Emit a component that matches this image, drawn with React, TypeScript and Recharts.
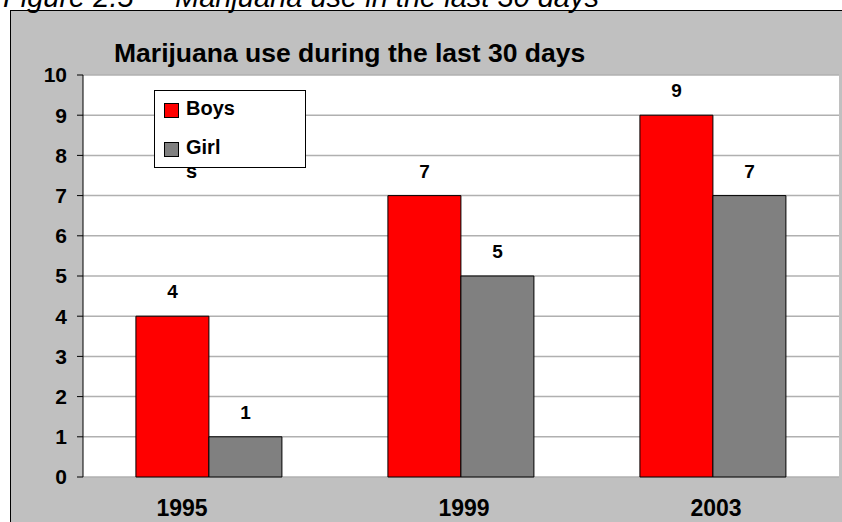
import React from "react";
import {
  BarChart,
  Bar,
  XAxis,
  YAxis,
  CartesianGrid,
  Legend,
  LabelList,
} from "recharts";

const years = ["1995", "1999", "2003"];
const boys = [4, 7, 9];
const girls = [1, 5, 7];
const seriesNames = ["Boys", "Girls"];
const seriesColors = ["#ff0000", "#808080"];
const yTicks = [0, 1, 2, 3, 4, 5, 6, 7, 8, 9, 10];
const boundaryTicks = [0, 1, 2, 3];

const chartTitle = "Marijuana use during the last 30 days";
const figureNo = "Figure 2.5";
const figureText = "Marijuana use in the last 30 days";

const data = years.map((year, i) => ({
  year,
  [seriesNames[0]]: boys[i],
  [seriesNames[1]]: girls[i],
}));

const font = "'Liberation Sans', Arial, Helvetica, sans-serif";
const legendWrap = 4; // characters per legend line before wrapping

function YearTick({ x, y, payload, index }: any) {
  const nudge = index === 0 ? -27 : 3;
  return (
    <text
      x={x + nudge}
      y={y + 39}
      textAnchor="middle"
      fontSize={23}
      fontWeight="bold"
      fontFamily={font}
      fill="#000"
    >
      {payload.value}
    </text>
  );
}

function LegendBox({ payload }: any) {
  const items = (payload ?? []).map((p: any) => ({ name: String(p.value), color: p.color }));
  return (
    <svg width={152} height={100} style={{ display: "block", overflow: "visible" }}>
      <rect x={0.5} y={0.5} width={151} height={77} fill="#fff" stroke="#000" />
      {items.map((item: any, i: number) => {
        const lines = item.name.match(new RegExp(`.{1,${legendWrap}}`, "g")) ?? [item.name];
        const top = 13.5 + i * 39;
        return (
          <g key={item.name}>
            <rect x={10.5} y={top} width={14} height={14} fill={item.color} stroke="#000" />
            <text x={32} y={top + 11.5} fontSize={20} fontWeight="bold" fontFamily={font} fill="#000">
              {lines.map((l: string, j: number) => (
                <tspan key={j} x={32} dy={j === 0 ? 0 : 24}>
                  {l}
                </tspan>
              ))}
            </text>
          </g>
        );
      })}
    </svg>
  );
}

export default function App() {
  return (
    <div
      style={{
        position: "absolute",
        left: 0,
        top: 0,
        width: 842,
        height: 522,
        overflow: "hidden",
        background: "#fff",
        fontFamily: font,
      }}
    >
      <svg width={842} height={522} style={{ position: "absolute", left: 0, top: 0 }}>
        <rect x={10.5} y={10.5} width={900} height={600} fill="#c0c0c0" stroke="#000" />
        <text y={7} fontSize={29} fontStyle="italic" fontFamily={font} fill="#000">
          <tspan x={3}>{figureNo}</tspan>
          <tspan x={147}>–</tspan>
          <tspan x={175}>{figureText}</tspan>
        </text>
        <text x={114} y={62} fontSize={26.5} fontWeight="bold" fontFamily={font} fill="#000">
          {chartTitle}
        </text>
      </svg>
      <div style={{ position: "absolute", left: 0, top: 0 }}>
        <BarChart
          width={842}
          height={522}
          data={data}
          margin={{ top: 75, right: 3, bottom: 5, left: 23 }}
          barCategoryGap="21%"
          barGap={0}
        >
          <CartesianGrid
            vertical={false}
            fill="#fff"
            stroke="#b0b0b0"
            strokeWidth={1.5}
          />
          <XAxis
            xAxisId="edge"
            type="number"
            domain={[0, 3]}
            ticks={boundaryTicks}
            allowDataOverflow
            height={0}
            tick={false}
            tickSize={6}
            axisLine={{ stroke: "#000" }}
            tickLine={{ stroke: "#000" }}
          />
          <XAxis
            dataKey="year"
            height={40}
            axisLine={false}
            tickLine={false}
            tickSize={0}
            tickMargin={0}
            interval={0}
            tick={<YearTick />}
          />
          <XAxis
            xAxisId="top"
            orientation="top"
            type="number"
            domain={[0, 3]}
            height={0}
            tick={false}
            tickLine={false}
            axisLine={{ stroke: "#808080" }}
          />
          <YAxis
            width={60}
            domain={[0, 10]}
            ticks={yTicks}
            interval={0}
            tickSize={6}
            tickMargin={10}
            axisLine={{ stroke: "#000" }}
            tickLine={{ stroke: "#000" }}
            tick={{ fontSize: 21, fontWeight: "bold", fill: "#000", fontFamily: font }}
          />
          <YAxis
            yAxisId="right"
            orientation="right"
            width={0}
            domain={[0, 10]}
            tick={false}
            tickLine={false}
            axisLine={{ stroke: "#808080" }}
          />
          <Legend
            layout="vertical"
            align="center"
            verticalAlign="middle"
            content={<LegendBox />}
            wrapperStyle={{ position: "absolute", left: 154, top: 90, width: 152, height: 100 }}
          />
          {seriesNames.map((name, i) => (
            <Bar
              key={name}
              dataKey={name}
              name={name}
              fill={seriesColors[i]}
              stroke="#000"
              strokeWidth={1}
              isAnimationActive={false}
            >
              <LabelList
                dataKey={name}
                position="top"
                offset={18}
                fontSize={19}
                fontWeight="bold"
                fontFamily={font}
                fill="#000"
              />
            </Bar>
          ))}
        </BarChart>
      </div>
    </div>
  );
}
